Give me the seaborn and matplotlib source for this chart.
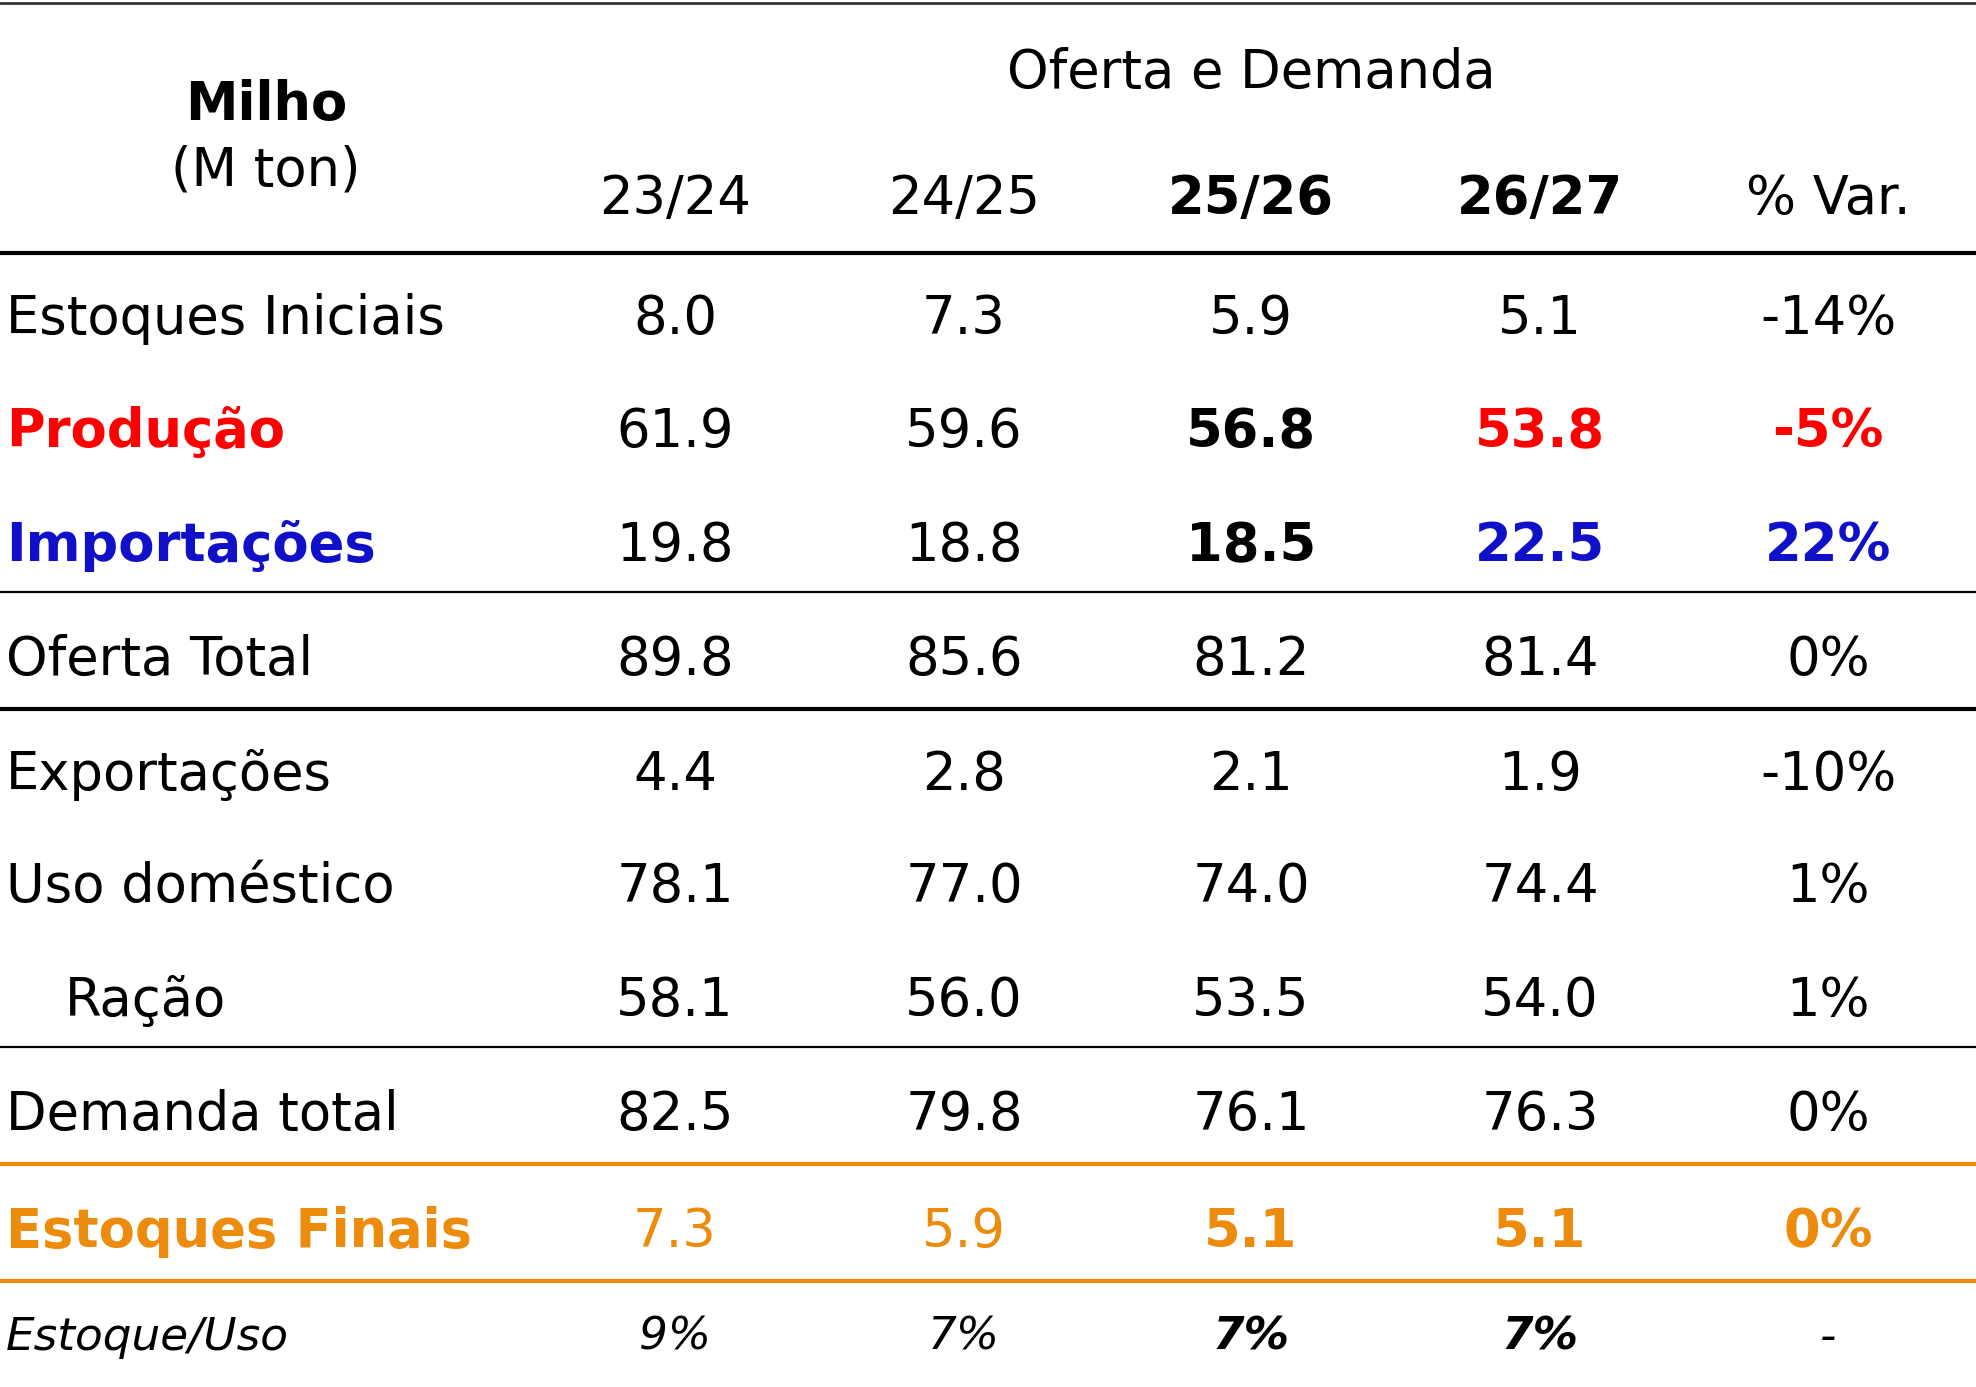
import matplotlib
matplotlib.use("Agg")
import matplotlib.pyplot as plt
import seaborn as sns

# Table content
seasons = ["23/24", "24/25", "25/26", "26/27"]
var_header = "% Var."
row_labels = ["Estoques Iniciais", "Produção", "Importações", "Oferta Total",
              "Exportações", "Uso doméstico", "Ração", "Demanda total",
              "Estoques Finais", "Estoque/Uso"]
col_2324 = ["8.0", "61.9", "19.8", "89.8", "4.4", "78.1", "58.1", "82.5", "7.3", "9%"]
col_2425 = ["7.3", "59.6", "18.8", "85.6", "2.8", "77.0", "56.0", "79.8", "5.9", "7%"]
col_2526 = ["5.9", "56.8", "18.5", "81.2", "2.1", "74.0", "53.5", "76.1", "5.1", "7%"]
col_2627 = ["5.1", "53.8", "22.5", "81.4", "1.9", "74.4", "54.0", "76.3", "5.1", "7%"]
col_var = ["-14%", "-5%", "22%", "0%", "-10%", "1%", "1%", "0%", "0%", "-"]

RED = "#FF0000"
BLUE = "#1010C8"
ORANGE = "#EC8B0C"

# layout (pixel coordinates of the 1976x1387 canvas)
W, H = 1976, 1387
col_x = [675, 964, 1251, 1540, 1828]
row_y = [315, 428, 542, 656, 771, 883, 997, 1111, 1228, 1333]
label_x = 6
indent_x = 65
FS = 38

# per-row style: label colour/weight, colour for highlighted cells
row_color = {1: RED, 2: BLUE, 8: ORANGE}

sns.set_theme(style="white")
plt.rcParams["font.family"] = ["DejaVu Sans"]
plt.rcParams["text.color"] = "black"

fig = plt.figure(figsize=(W / 100, H / 100), dpi=100)
ax = fig.add_axes([0, 0, 1, 1])
ax.set_xlim(0, W)
ax.set_ylim(H, 0)
ax.axis("off")


def put(x, y, s, size=FS, ha="center", color="black", **kw):
    em = size * 100 / 72
    ax.text(x, y + 0.5 * 0.729 * em, s, fontsize=size, ha=ha, va="baseline",
            color=color, **kw)


# header
put(col_x[2], 69, "Oferta e Demanda")
put(266, 101, "Milho", weight="bold")
put(266, 166, "(M ton)")
for i, s in enumerate(seasons):
    put(col_x[i], 195, s, weight="bold" if i >= 2 else "normal")
put(col_x[4], 195, var_header)

# rules
ax.plot([0, W], [2.5, 2.5], color="#333333", lw=2)
ax.plot([0, W], [253, 253], color="black", lw=3)
ax.plot([0, W], [592, 592], color="black", lw=1.6)
ax.plot([0, W], [709, 709], color="black", lw=3)
ax.plot([0, W], [1047, 1047], color="black", lw=1.6)
ax.plot([0, W], [1164, 1164], color=ORANGE, lw=3)
ax.plot([0, W], [1281, 1281], color=ORANGE, lw=3)

# body
columns = [col_2324, col_2425, col_2526, col_2627, col_var]
for r, label in enumerate(row_labels):
    y = row_y[r]
    c = row_color.get(r, "black")
    last = r == len(row_labels) - 1
    size = FS * 0.86 if last else FS
    style = "italic" if last else "normal"
    lx = indent_x if label == "Ração" else label_x
    put(lx, y, label, size=size, ha="left", color=c,
        weight="bold" if r in row_color else "normal", style=style)
    for j, col in enumerate(columns):
        if r in (1, 2):
            colr = "black" if j < 3 else c
            w = "bold" if j >= 2 else "normal"
        elif r == 8:
            colr = c
            w = "bold" if j >= 2 else "normal"
        elif last:
            colr = "black"
            w = "bold" if j in (2, 3) else "normal"
        else:
            colr = "black"
            w = "normal"
        put(col_x[j], y, col[r], size=size, color=colr, weight=w, style=style)

fig.savefig("out.png", dpi=100, facecolor="white")
